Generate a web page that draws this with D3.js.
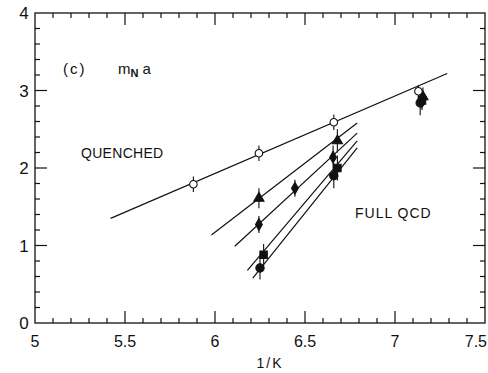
<!DOCTYPE html>
<html><head><meta charset="utf-8">
<script src="https://cdn.jsdelivr.net/npm/d3@7"></script>
<style>body{margin:0;background:#fff}svg{display:block}text{font-family:"Liberation Sans","DejaVu Sans",sans-serif;fill:#111}</style>
</head><body><svg id="c" width="488" height="373"></svg>
<script>
// ---- data ----
const xTicks = [5, 5.5, 6, 6.5, 7, 7.5];
const xTickLabels = ["5", "5.5", "6", "6.5", "7", "7.5"];
const yTicks = [0, 1, 2, 3, 4];
const yTickLabels = ["0", "1", "2", "3", "4"];

// quenched (open circles)
const qX = [5.88, 6.244, 6.66, 7.13];
const qY = [1.79, 2.19, 2.59, 2.99];
const qErr = [0.10, 0.10, 0.10, 0.08];
const qLine = [[5.42, 1.35], [7.29, 3.22]];

// full QCD series
const triX = [6.244, 6.68, 7.155];
const triY = [1.61, 2.35, 2.92];
const triErr = [0.13, 0.15, 0.12];
const diaX = [6.244, 6.444, 6.656, 7.15];
const diaY = [1.27, 1.74, 2.14, 2.89];
const diaErr = [0.11, 0.11, 0.15, 0.12];
const sqX = [6.27, 6.68, 7.15];
const sqY = [0.88, 2.00, 2.87];
const sqErr = [0.14, 0.16, 0.12];
const cirX = [6.25, 6.66, 7.14];
const cirY = [0.71, 1.90, 2.84];
const cirErr = [0.15, 0.16, 0.16];

const fullLines = [
  [[5.98, 1.135], [6.79, 2.58]],
  [[6.11, 0.99], [6.79, 2.45]],
  [[6.18, 0.68], [6.79, 2.35]],
  [[6.21, 0.58], [6.79, 2.26]]
];

// ---- drawing ----
const svg = d3.select("#c");
const x = d3.scaleLinear().domain([5, 7.5]).range([35, 485]);
const y = d3.scaleLinear().domain([0, 4]).range([323, 13]);
const g = svg.append("g");

// frame
g.append("rect").attr("x", x(5)).attr("y", y(4)).attr("width", x(7.5) - x(5)).attr("height", y(0) - y(4))
  .attr("fill", "none").attr("stroke", "#111").attr("stroke-width", 1.3);

const xMinor = d3.range(51, 75).map(d => d / 10);
const yMinor = d3.range(1, 20).map(d => d / 5);
const isMajX = v => Math.abs(v * 2 - Math.round(v * 2)) < 1e-6;
const isMajY = v => Math.abs(v - Math.round(v)) < 1e-6;
const tk = g.append("g").attr("stroke", "#111").attr("stroke-width", 1.2);
xMinor.forEach(v => {
  const L = isMajX(v) ? 12 : 5;
  tk.append("line").attr("x1", x(v)).attr("x2", x(v)).attr("y1", y(0)).attr("y2", y(0) - L);
  tk.append("line").attr("x1", x(v)).attr("x2", x(v)).attr("y1", y(4)).attr("y2", y(4) + L);
});
yMinor.forEach(v => {
  const L = isMajY(v) ? 12 : 5;
  tk.append("line").attr("y1", y(v)).attr("y2", y(v)).attr("x1", x(5)).attr("x2", x(5) + L);
  tk.append("line").attr("y1", y(v)).attr("y2", y(v)).attr("x1", x(7.5)).attr("x2", x(7.5) - L);
});

// tick labels
xTicks.forEach((v, i) => {
  const last = i === xTicks.length - 1;
  g.append("text").attr("x", last ? 487 : x(v)).attr("y", y(0) + 24)
    .attr("text-anchor", last ? "end" : "middle")
    .attr("font-size", 16).text(xTickLabels[i]);
});
yTicks.forEach((v, i) => {
  g.append("text").attr("x", 24).attr("y", y(v) + 6).attr("text-anchor", "middle")
    .attr("font-size", 17).text(yTickLabels[i]);
});
g.append("text").attr("x", 270).attr("y", 368).attr("text-anchor", "middle").attr("font-size", 14)
  .attr("letter-spacing", 2).text("1/K");

// lines
const line = d3.line().x(d => x(d[0])).y(d => y(d[1]));
g.append("path").attr("d", line(qLine)).attr("stroke", "#111").attr("fill", "none").attr("stroke-width", 1.2);
fullLines.forEach(l => g.append("path").attr("d", line(l)).attr("stroke", "#111").attr("fill", "none").attr("stroke-width", 1.2));

// error bars
function errBars(xs, ys, es) {
  xs.forEach((v, i) => {
    g.append("line").attr("x1", x(v)).attr("x2", x(v))
      .attr("y1", y(ys[i] - es[i])).attr("y2", y(ys[i] + es[i])).attr("stroke", "#222").attr("stroke-width", 1.2);
  });
}
errBars(qX, qY, qErr);
errBars(triX, triY, triErr);
errBars(diaX, diaY, diaErr);
errBars(sqX, sqY, sqErr);
errBars(cirX, cirY, cirErr);

// symbols
function sym(xs, ys, type, size, fill) {
  g.selectAll(null).data(xs).enter().append("path")
    .attr("transform", (d, i) => `translate(${x(d)},${y(ys[i])})`)
    .attr("d", d3.symbol().type(type).size(size))
    .attr("fill", fill).attr("stroke", "#111").attr("stroke-width", 1.1);
}
sym(triX, triY, d3.symbolTriangle, 45, "#111");
sym(diaX, diaY, d3.symbolDiamond, 40, "#111");
sym(sqX, sqY, d3.symbolSquare, 55, "#111");
sym(cirX, cirY, d3.symbolCircle, 55, "#111");
sym(qX, qY, d3.symbolCircle, 45, "#fff");

// labels
g.append("text").attr("x", 63).attr("y", 74).attr("font-size", 15).attr("letter-spacing", 2).text("(c)");
const ml = g.append("text").attr("x", 118).attr("y", 74).attr("font-size", 15);
ml.append("tspan").text("m");
ml.append("tspan").attr("font-size", 11).attr("font-weight", "bold").attr("dy", 3).text("N");
ml.append("tspan").attr("dy", -3).text(" a");
g.append("text").attr("x", 81).attr("y", 158).attr("font-size", 14).attr("letter-spacing", 0.3).text("QUENCHED");
g.append("text").attr("x", 355).attr("y", 218).attr("font-size", 14).attr("letter-spacing", 1).text("FULL QCD");
</script></body></html>
